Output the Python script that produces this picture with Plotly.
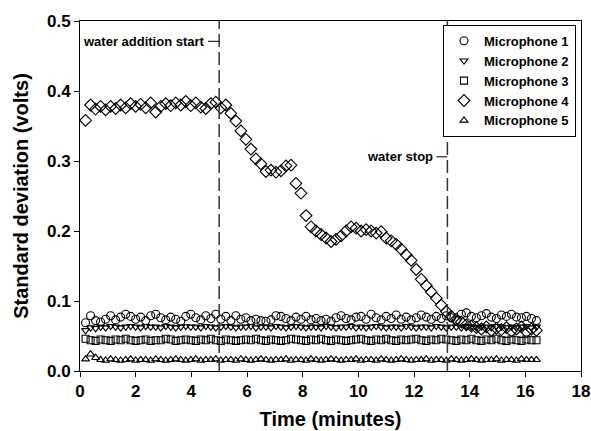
import plotly.graph_objects as go

# Sampling times (minutes)
time_min = [
    0.20, 0.38, 0.56, 0.74, 0.92, 1.10, 1.28, 1.46, 1.64, 1.82,
    2.00, 2.18, 2.36, 2.54, 2.72, 2.90, 3.08, 3.26, 3.44, 3.62,
    3.80, 3.98, 4.16, 4.34, 4.52, 4.70, 4.88, 5.06, 5.24, 5.42,
    5.60, 5.78, 5.96, 6.14, 6.32, 6.50, 6.68, 6.86, 7.04, 7.22,
    7.40, 7.58, 7.76, 7.94, 8.12, 8.30, 8.48, 8.66, 8.84, 9.02,
    9.20, 9.38, 9.56, 9.74, 9.92, 10.10, 10.28, 10.46, 10.64, 10.82,
    11.00, 11.18, 11.36, 11.54, 11.72, 11.90, 12.08, 12.26, 12.44, 12.62,
    12.80, 12.98, 13.16, 13.34, 13.52, 13.70, 13.88, 14.06, 14.24, 14.42,
    14.60, 14.78, 14.96, 15.14, 15.32, 15.50, 15.68, 15.86, 16.04, 16.22,
    16.40,
]

# Standard deviation of each microphone signal (volts)
mic1 = [
    0.069, 0.079, 0.072, 0.070, 0.074, 0.079, 0.073, 0.077, 0.081, 0.078,
    0.074, 0.077, 0.072, 0.079, 0.081, 0.076, 0.073, 0.077, 0.074, 0.071,
    0.078, 0.081, 0.076, 0.073, 0.079, 0.075, 0.081, 0.074, 0.078, 0.072,
    0.079, 0.074, 0.076, 0.072, 0.074, 0.072, 0.071, 0.073, 0.079, 0.078,
    0.075, 0.072, 0.077, 0.074, 0.078, 0.073, 0.075, 0.072, 0.074, 0.071,
    0.076, 0.079, 0.075, 0.073, 0.077, 0.078, 0.074, 0.081, 0.076, 0.073,
    0.078, 0.075, 0.080, 0.074, 0.077, 0.073, 0.076, 0.080, 0.077, 0.074,
    0.078, 0.075, 0.079, 0.076, 0.072, 0.081, 0.083, 0.078, 0.076, 0.079,
    0.082, 0.077, 0.075, 0.080, 0.078, 0.081, 0.077, 0.076, 0.078, 0.075,
    0.072,
]
mic2 = [
    0.058, 0.062, 0.061, 0.063, 0.062, 0.064, 0.063, 0.062, 0.063, 0.064,
    0.063, 0.062, 0.064, 0.063, 0.063, 0.062, 0.064, 0.063, 0.062, 0.063,
    0.064, 0.063, 0.063, 0.062, 0.064, 0.063, 0.062, 0.063, 0.064, 0.063,
    0.062, 0.063, 0.063, 0.064, 0.062, 0.063, 0.063, 0.062, 0.064, 0.063,
    0.062, 0.063, 0.064, 0.063, 0.062, 0.063, 0.063, 0.062, 0.064, 0.063,
    0.062, 0.063, 0.063, 0.064, 0.062, 0.063, 0.062, 0.063, 0.064, 0.063,
    0.062, 0.063, 0.063, 0.062, 0.064, 0.063, 0.062, 0.063, 0.063, 0.062,
    0.064, 0.063, 0.062, 0.063, 0.063, 0.062, 0.064, 0.063, 0.062, 0.063,
    0.063, 0.062, 0.064, 0.063, 0.062, 0.063, 0.062, 0.063, 0.064, 0.062,
    0.063,
]
mic3 = [
    0.046, 0.044, 0.043, 0.045, 0.044, 0.043, 0.045, 0.044, 0.046, 0.044,
    0.043, 0.044, 0.045, 0.043, 0.044, 0.044, 0.046, 0.045, 0.043, 0.044,
    0.045, 0.044, 0.043, 0.045, 0.044, 0.046, 0.044, 0.043, 0.045, 0.044,
    0.043, 0.044, 0.045, 0.044, 0.046, 0.044, 0.043, 0.045, 0.044, 0.043,
    0.044, 0.046, 0.045, 0.044, 0.043, 0.045, 0.044, 0.046, 0.044, 0.043,
    0.045, 0.044, 0.043, 0.044, 0.045, 0.046, 0.044, 0.043, 0.045, 0.044,
    0.046, 0.044, 0.043, 0.045, 0.044, 0.045, 0.046, 0.044, 0.043, 0.045,
    0.044, 0.046, 0.045, 0.044, 0.043, 0.045, 0.044, 0.046, 0.044, 0.043,
    0.045, 0.044, 0.046, 0.044, 0.043, 0.045, 0.044, 0.043, 0.045, 0.044,
    0.044,
]
mic4 = [
    0.358, 0.380, 0.374, 0.378, 0.373, 0.378, 0.375, 0.380, 0.376, 0.382,
    0.378, 0.381, 0.376, 0.383, 0.370, 0.378, 0.382, 0.379, 0.383, 0.380,
    0.385, 0.379, 0.383, 0.377, 0.375, 0.382, 0.384, 0.376, 0.380, 0.368,
    0.357, 0.343, 0.331, 0.317, 0.303, 0.296, 0.285, 0.287, 0.284, 0.286,
    0.293, 0.294, 0.268, 0.254, 0.222, 0.206, 0.200, 0.195, 0.190, 0.185,
    0.188, 0.193, 0.200, 0.206, 0.204, 0.200, 0.202, 0.200, 0.197, 0.199,
    0.190, 0.186, 0.181, 0.174, 0.166, 0.158, 0.145, 0.131, 0.122, 0.113,
    0.104, 0.094, 0.085, 0.078, 0.074, 0.070, 0.066, 0.064, 0.062, 0.060,
    0.063, 0.058, 0.061, 0.059, 0.062, 0.057, 0.060, 0.063, 0.056, 0.060,
    0.058,
]
mic5 = [
    0.017, 0.024, 0.019, 0.016, 0.015, 0.017, 0.016, 0.015, 0.016, 0.017,
    0.015, 0.016, 0.016, 0.015, 0.017, 0.016, 0.015, 0.016, 0.017, 0.016,
    0.015, 0.016, 0.017, 0.015, 0.016, 0.016, 0.017, 0.015, 0.016, 0.016,
    0.015, 0.017, 0.016, 0.015, 0.016, 0.017, 0.016, 0.015, 0.016, 0.016,
    0.017, 0.015, 0.016, 0.016, 0.015, 0.017, 0.016, 0.015, 0.016, 0.017,
    0.016, 0.015, 0.016, 0.016, 0.017, 0.015, 0.016, 0.016, 0.015, 0.017,
    0.016, 0.015, 0.016, 0.017, 0.016, 0.015, 0.016, 0.016, 0.017, 0.015,
    0.016, 0.016, 0.015, 0.017, 0.016, 0.015, 0.016, 0.017, 0.016, 0.015,
    0.016, 0.016, 0.017, 0.015, 0.016, 0.016, 0.015, 0.017, 0.016, 0.016,
    0.016,
]

series_names = ["Microphone 1", "Microphone 2", "Microphone 3", "Microphone 4", "Microphone 5"]
series_values = [mic1, mic2, mic3, mic4, mic5]
series_symbols = ["circle-open", "triangle-down-open", "square-open", "diamond-open", "triangle-up-open"]
series_sizes = [8, 7, 7, 9, 7]

water_start = 5.0
water_stop = 13.2

FONT = "Liberation Sans, Arial, sans-serif"

fig = go.Figure()
for name, vals, sym, sz in zip(series_names, series_values, series_symbols, series_sizes):
    fig.add_trace(go.Scatter(
        x=time_min, y=vals, name=name, mode="markers",
        marker=dict(symbol=sym, size=sz, color="black", line=dict(width=1.1, color="black")),
    ))

# Dashed markers for start/stop of water addition
for xv in (water_start, water_stop):
    fig.add_shape(type="line", xref="x", yref="paper", x0=xv, x1=xv, y0=0, y1=1,
                  line=dict(color="#333333", width=1.5, dash="13px,5px"))

# Labels with short leader lines to the dashed markers
labels = [("water addition start", water_start, 0.471, 0.4),
          ("water stop", water_stop, 0.306, 0.4)]
for text, xv, yv, lead in labels:
    fig.add_shape(type="line", xref="x", yref="y", x0=xv - lead, x1=xv, y0=yv, y1=yv,
                  line=dict(color="black", width=1))
    fig.add_annotation(x=xv - lead - 0.05, y=yv, xref="x", yref="y", text=text,
                       showarrow=False, xanchor="right", yanchor="middle",
                       font=dict(family=FONT, size=13, color="black", weight="bold"))

axis_common = dict(
    showline=True, linecolor="black", linewidth=1, mirror=True,
    ticks="outside", ticklen=5, tickwidth=1, tickcolor="black",
    showgrid=False, zeroline=False,
    tickfont=dict(family=FONT, size=17, color="black", weight="bold"),
)

fig.update_xaxes(range=[0, 18], dtick=2, tick0=0,
                 title=dict(text="Time (minutes)", standoff=11,
                            font=dict(family=FONT, size=20, color="black", weight="bold")),
                 **axis_common)
fig.update_yaxes(range=[0, 0.5], dtick=0.1, tick0=0, tickformat=".1f",
                 title=dict(text="Standard deviation (volts)", standoff=12,
                            font=dict(family=FONT, size=20, color="black", weight="bold")),
                 **axis_common)

fig.update_layout(
    width=591, height=431,
    margin=dict(l=80, r=10, t=21, b=60, autoexpand=False),
    plot_bgcolor="white", paper_bgcolor="white",
    showlegend=True,
    legend=dict(x=0.99, y=0.989, xanchor="right", yanchor="top",
                bgcolor="white", bordercolor="black", borderwidth=1,
                font=dict(family=FONT, size=13, color="black", weight="bold"),
                itemsizing="trace"),
)

fig.write_html("out.html")
